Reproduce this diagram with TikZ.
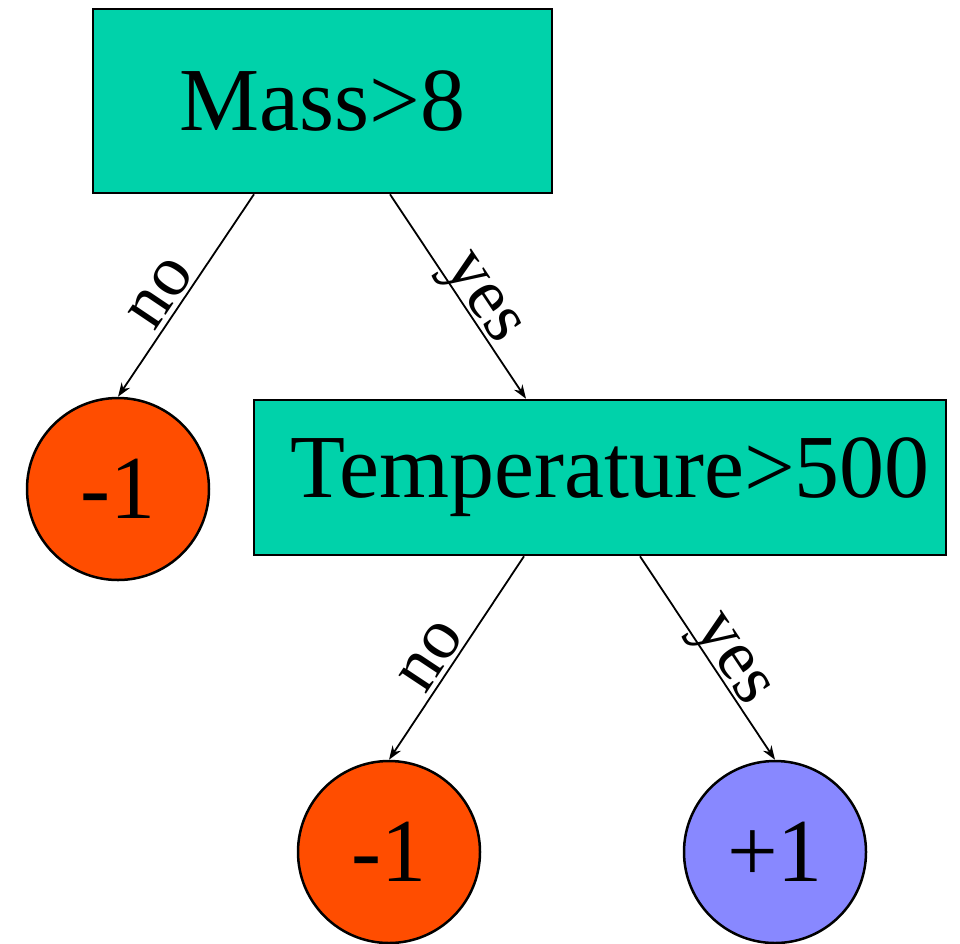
\documentclass[tikz,border=0pt]{standalone}
\usepackage{fontspec}
\setmainfont{Liberation Serif}
\usetikzlibrary{arrows.meta}
\definecolor{boxteal}{RGB}{0,210,170}
\definecolor{leafred}{RGB}{255,77,0}
\definecolor{leafblue}{RGB}{136,136,255}
\begin{document}
\begin{tikzpicture}[x=1pt,y=-1pt,
  testbox/.style={draw=black,line width=2.5pt,fill=boxteal,rectangle,inner sep=0pt,
    font=\fontsize{90}{100}\selectfont},
  leafnode/.style={draw=black,line width=2.5pt,circle,minimum size=182pt,inner sep=0pt,
    font=\fontsize{90}{100}\selectfont},
  arr/.style={line width=1.8pt,-{Stealth[length=14pt,width=10pt]}},
  lbl/.style={sloped,anchor=base,inner sep=0pt,font=\fontsize{72}{80}\selectfont}]
\useasboundingbox (0,0) rectangle (960,943);
\node[testbox,minimum width=459pt,minimum height=184pt] (mass) at (322.5,101) {Mass>8};
\node[testbox,minimum width=692pt,minimum height=155pt] (temp) at (600,477.5) {\hspace*{20pt}Temperature>500};
\node[leafnode,fill=leafred] (leafa) at (118,489) {-1};
\node[leafnode,fill=leafred] (leafb) at (389,852) {-1};
\node[leafnode,fill=leafblue] (leafc) at (775,852) {+1};
\draw[arr] ([xshift=-68.5pt]mass.south) -- node[lbl,pos=0.55,yshift=5pt] {no} (leafa.north);
\draw[arr] ([xshift=67.5pt]mass.south) -- node[lbl,pos=0.56,yshift=5pt] {yes} ([xshift=-74pt]temp.north);
\draw[arr] ([xshift=-76pt]temp.south) -- node[lbl,pos=0.55,yshift=5pt] {no} (leafb.north);
\draw[arr] ([xshift=40pt]temp.south) -- node[lbl,pos=0.56,yshift=5pt] {yes} (leafc.north);
\end{tikzpicture}
\end{document}
